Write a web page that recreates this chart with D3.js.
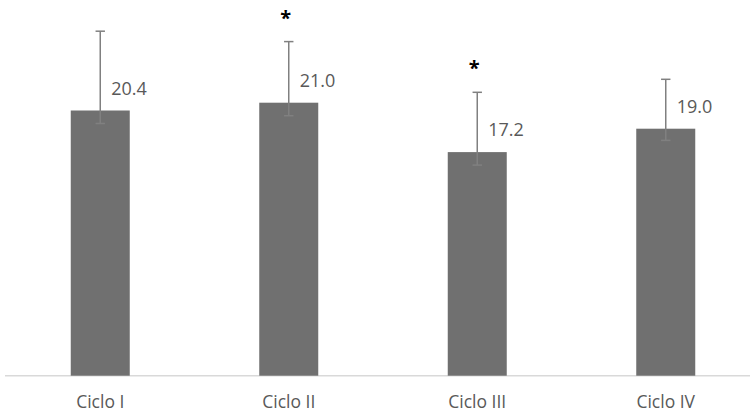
<!DOCTYPE html>
<meta charset="utf-8">
<style>
body { margin: 0; background: #fff; }
svg { font-family: "Open Sans", sans-serif; }
</style>
<body>
<script src="https://d3js.org/d3.v7.min.js"></script>
<script>

// data
var categories = ["Ciclo I", "Ciclo II", "Ciclo III", "Ciclo IV"];
var values = [20.4, 21.0, 17.2, 19.0];
var errUp = [6.1, 4.7, 4.6, 3.8];
var errDown = [1.0, 1.0, 1.0, 0.9];
var stars = [false, true, true, false];

var width = 750, height = 413;

var svg = d3.select("body").append("svg")
    .attr("width", width)
    .attr("height", height);

var x = d3.scaleBand()
    .domain(categories)
    .range([6, 760])
    .padding(0);

var y = d3.scaleLinear()
    .domain([0, 25])
    .range([375.7, 50.7]);

var barW = x.bandwidth() * 0.313;

var data = categories.map(function(c, i) {
  return {cat: c, v: values[i], up: errUp[i], down: errDown[i], star: stars[i]};
});

// baseline
svg.append("line")
    .attr("x1", 5).attr("x2", 750)
    .attr("y1", y(0)).attr("y2", y(0))
    .attr("stroke", "#d9d9d9")
    .attr("stroke-width", 1.5);

var g = svg.selectAll("g.bar")
  .data(data)
  .enter().append("g")
    .attr("class", "bar")
    .attr("transform", function(d) { return "translate(" + (x(d.cat) + x.bandwidth() / 2) + ",0)"; });

g.append("rect")
    .attr("x", -barW / 2)
    .attr("width", barW)
    .attr("y", function(d) { return y(d.v); })
    .attr("height", function(d) { return y(0) - y(d.v); })
    .attr("fill", "#707070");

// error bars
g.append("line")
    .attr("x1", 0).attr("x2", 0)
    .attr("y1", function(d) { return y(d.v + d.up); })
    .attr("y2", function(d) { return y(d.v - d.down); })
    .attr("stroke", "#808080")
    .attr("stroke-width", 1.5);

g.selectAll("line.cap")
  .data(function(d) { return [d.v + d.up, d.v - d.down]; })
  .enter().append("line")
    .attr("class", "cap")
    .attr("x1", -4.7).attr("x2", 4.7)
    .attr("y1", function(v) { return y(v); })
    .attr("y2", function(v) { return y(v); })
    .attr("stroke", "#808080")
    .attr("stroke-width", 1.5);

// value labels
g.append("text")
    .attr("x", 11)
    .attr("y", function(d) { return y(d.v) - 22; })
    .attr("dy", "0.35em")
    .attr("fill", "#595959")
    .style("font-size", "18px")
    .text(function(d) { return d3.format(".1f")(d.v); });

// significance stars
g.filter(function(d) { return d.star; })
  .append("text")
    .attr("x", -3)
    .attr("y", function(d) { return y(d.v + d.up) - 31; })
    .attr("dy", "0.7em")
    .attr("text-anchor", "middle")
    .attr("fill", "#000")
    .style("font-size", "20px")
    .style("font-weight", "bold")
    .text("*");

// category labels
svg.selectAll("text.cat")
  .data(categories)
  .enter().append("text")
    .attr("class", "cat")
    .attr("x", function(d) { return x(d) + x.bandwidth() / 2; })
    .attr("y", 402)
    .attr("dy", "0.35em")
    .attr("text-anchor", "middle")
    .attr("fill", "#595959")
    .style("font-size", "17.5px")
    .text(function(d) { return d; });

</script>
</body>
